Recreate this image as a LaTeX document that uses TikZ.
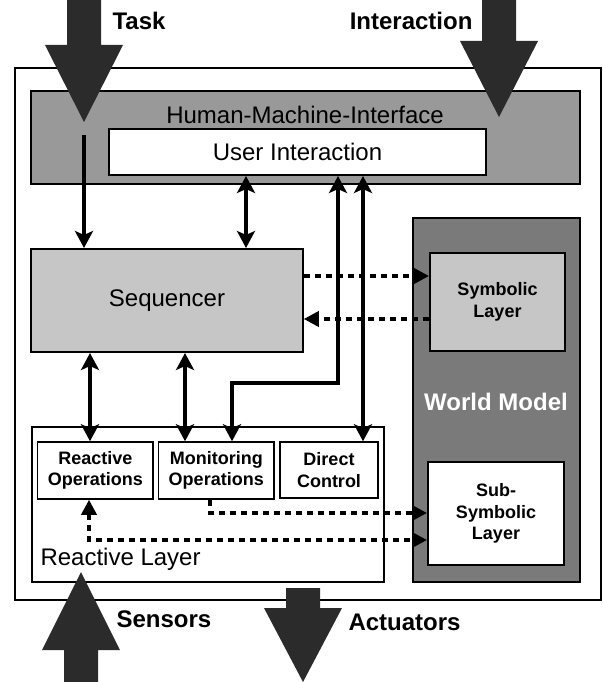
\documentclass[tikz,border=0pt]{standalone}
\usepackage{fontspec}
\setmainfont{Liberation Sans}
\usetikzlibrary{arrows.meta,calc}

\definecolor{hmigray}{HTML}{999999}
\definecolor{wmgray}{HTML}{7A7A7A}
\definecolor{lightbox}{HTML}{C6C6C6}
\definecolor{bigarrow}{HTML}{2B2B2B}

\tikzset{
  headsol/.tip={Stealth[length=17pt,width=18pt,inset=4pt]},
  headdsh/.tip={Triangle[length=15pt,width=15pt]},
  frame/.style={draw=black, line width=2pt, inner sep=0pt},
  labelbig/.style={font=\fontsize{24}{28}\selectfont},
  labelbold/.style={font=\fontsize{18}{21.5}\selectfont\bfseries, align=center},
  titlebold/.style={font=\fontsize{24}{28}\selectfont\bfseries},
  sol/.style={line width=4pt, headsol-headsol},
  solone/.style={line width=4pt, -headsol},
  dsh/.style={line width=3.5pt, dash pattern=on 6pt off 5pt, -headdsh},
  dshtwo/.style={line width=3.5pt, dash pattern=on 6pt off 5pt, headdsh-headdsh},
  fat/.style={fill=bigarrow, draw=none}
}

\begin{document}
\begin{tikzpicture}[x=1pt, y=-1pt]
\useasboundingbox (0,0) rectangle (602,682);
\fill[white] (0,0) rectangle (602,682);

% outer frame of the architecture
\node[frame, minimum width=586pt, minimum height=532pt] (outer) at (307.5,334) {};

% human-machine interface
\node[frame, fill=hmigray, minimum width=549pt, minimum height=93pt] (hmi) at (305.5,137.5) {};
\node[labelbig] (hmilabel) at (305,115) {Human-Machine-Interface};
\node[frame, fill=white, minimum width=377pt, minimum height=46pt, labelbig] (ui) at (297.5,152) {User Interaction};

% sequencer
\node[frame, fill=lightbox, minimum width=271.5pt, minimum height=103pt, labelbig] (seq) at (167,300.5) {Sequencer};

% world model
\node[frame, fill=wmgray, minimum width=167pt, minimum height=364pt] (wm) at (496.5,400) {};
\node[titlebold, text=white] (wmlabel) at (496,402) {World Model};
\node[frame, fill=lightbox, minimum width=135pt, minimum height=98pt, labelbold] (sym) at (497.5,302) {Symbolic\\Layer};
\node[frame, fill=white, minimum width=136pt, minimum height=103pt, labelbold] (sub) at (496,513.5) {Sub-\\Symbolic\\Layer};

% reactive layer
\node[frame, fill=white, minimum width=352.5pt, minimum height=155pt] (rl) at (207.75,504.5) {};
\node[labelbig, anchor=west] (rllabel) at (37,559) {Reactive Layer};
\node[frame, line width=1.5pt, minimum width=115.4pt, minimum height=57pt, labelbold] (rop) at (95.3,470.5) {Reactive\\Operations};
\node[frame, line width=1.5pt, minimum width=115.5pt, minimum height=57pt, labelbold] (mon) at (216.25,470.5) {Monitoring\\Operations};
\node[frame, line width=1.5pt, minimum width=98pt, minimum height=56pt, labelbold] (dc) at (329,470) {Direct\\Control};

% big external arrows
\fill[fat] (67,0) -- (101,0) -- (101,45) -- (123,45) -- (84,122) -- (45,45) -- (67,45) -- cycle;
\fill[fat] (482,0) -- (516,0) -- (516,41) -- (538,41) -- (499,117) -- (460,41) -- (482,41) -- cycle;
\fill[fat] (64,682) -- (98,682) -- (98,650) -- (120,650) -- (81,572) -- (42,650) -- (64,650) -- cycle;
\fill[fat] (286,588) -- (320,588) -- (320,608) -- (342,608) -- (303,682) -- (264,608) -- (286,608) -- cycle;
\node[titlebold, anchor=west] (task) at (109,21) {Task};
\node[titlebold, anchor=east] (inter) at (476,21) {Interaction};
\node[titlebold, anchor=west] (sens) at (113,619) {Sensors};
\node[titlebold, anchor=west] (act) at (345,622) {Actuators};

% columns and rows used by the connectors
\coordinate (taskin) at (84,135);
\coordinate (cA) at (90,0);
\coordinate (cB) at (185,0);
\coordinate (cC) at (246,0);
\coordinate (cD) at (338,0);
\coordinate (cE) at (363,0);
\coordinate (cF) at (232,0);
\coordinate (cG) at (210,0);
\coordinate (cH) at (89,0);
\coordinate (rA) at (0,383);
\coordinate (rB) at (0,513);
\coordinate (rC) at (0,540);
\coordinate (rD) at (0,276);
\coordinate (rE) at (0,319);

% solid connectors
\draw[solone] (taskin) -- (taskin |- seq.north);
\draw[sol] (ui.south -| cC) -- (seq.north -| cC);
\draw[sol] (ui.south -| cD) -- (cD |- rA) -| (mon.north -| cF);
\draw[sol] (ui.south -| cE) -- (dc.north -| cE);
\draw[sol] (seq.south -| cA) -- (rop.north -| cA);
\draw[sol] (seq.south -| cB) -- (mon.north -| cB);

% dashed connectors to the world model
\draw[dsh] (seq.east |- rD) -- (sym.west |- rD);
\draw[dsh] (sym.west |- rE) -- (seq.east |- rE);
\draw[dsh] (mon.south -| cG) |- (sub.west |- rB);
\draw[dshtwo] (rop.south -| cH) |- (sub.west |- rC);
\end{tikzpicture}
\end{document}
